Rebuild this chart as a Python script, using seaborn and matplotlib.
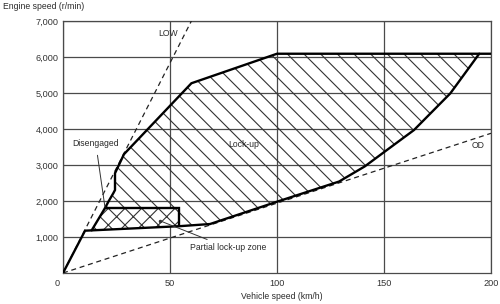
import matplotlib
matplotlib.use("Agg")
import matplotlib.pyplot as plt
import matplotlib.transforms as mtransforms
from matplotlib.patches import Polygon
import seaborn as sns

# ---- data ----
x_ticks = [0, 50, 100, 150, 200]
x_tick_labels = ["0", "50", "100", "150", "200"]
y_ticks = [1000, 2000, 3000, 4000, 5000, 6000, 7000]
y_tick_labels = ["1,000", "2,000", "3,000", "4,000", "5,000", "6,000", "7,000"]

# lower / right boundary of the lock-up area (km/h, r/min)
lower_speed = [0, 10.3, 54.4, 68.7, 100, 129, 141, 151, 164, 181, 194.5]
lower_rpm = [0, 1175, 1300, 1360, 1980, 2540, 2960, 3400, 3970, 4990, 6090]

# upper / left boundary
upper_speed = [200, 100, 60, 28.5, 24.3, 24.3, 23.5, 21.2, 19.6, 13.4]
upper_rpm = [6090, 6090, 5270, 3300, 2770, 2305, 2215, 1980, 1800, 1185]

# partial lock-up zone
partial_speed = [13.4, 19.6, 54.4, 54.4]
partial_rpm = [1185, 1800, 1800, 1300]

# gear lines
low_speed = [0, 60]
low_rpm = [0, 7000]
od_speed = [0, 200]
od_rpm = [0, 3880]

# ---- style ----
sns.set_theme(style="white")
plt.rcParams["font.family"] = ["Liberation Sans", "DejaVu Sans"]
plt.rcParams["hatch.linewidth"] = 0.8

fig = plt.figure(figsize=(5, 3.04), dpi=100)
ax = fig.add_axes([0.126, 0.102, 0.856, 0.829])

grid_col = "#4a4a4a"
ax.set_xlim(0, 200)
ax.set_ylim(0, 7000)
ax.set_xticks(x_ticks)
ax.set_xticklabels(x_tick_labels)
ax.set_yticks(y_ticks)
ax.set_yticklabels(y_tick_labels)
ax.tick_params(axis="both", length=0, labelsize=6.6, colors="#333333")
ax.tick_params(axis="x", pad=4.5)
ax.tick_params(axis="y", pad=3.2)
ax.grid(True, color=grid_col, linewidth=0.9)
ax.set_axisbelow(True)
for s in ax.spines.values():
    s.set_color(grid_col)
    s.set_linewidth(0.9)

# shift the "0" x tick label slightly left (shared origin label)
lbl0 = ax.get_xticklabels()[0]
lbl0.set_transform(lbl0.get_transform() + mtransforms.ScaledTranslation(-6 / 100, 0, fig.dpi_scale_trans))

# ---- hatched areas ----
i_rect = 2  # index of (54.4, 1300) in the lower boundary
lock_pts = [(partial_speed[1], partial_rpm[1]), (partial_speed[2], partial_rpm[2]),
            (partial_speed[3], partial_rpm[3])]
lock_pts += list(zip(lower_speed[i_rect + 1:], lower_rpm[i_rect + 1:]))
lock_pts += list(zip(upper_speed[1:-1], upper_rpm[1:-1]))
ax.add_patch(Polygon(lock_pts, closed=True, facecolor="none", edgecolor="#333333",
                     linewidth=0, hatch="\\\\", zorder=2))

part_pts = list(zip(partial_speed, partial_rpm))
ax.add_patch(Polygon(part_pts, closed=True, facecolor="white", edgecolor="#333333",
                     linewidth=0, hatch="xx", zorder=2))

# ---- lines ----
dash = dict(color="#222222", linewidth=0.9, dashes=(4, 3), sort=False, estimator=None, ax=ax)
sns.lineplot(x=low_speed, y=low_rpm, **dash)
sns.lineplot(x=od_speed, y=od_rpm, **dash)

thick = dict(color="black", linewidth=1.7, sort=False, estimator=None, ax=ax)
sns.lineplot(x=lower_speed, y=lower_rpm, **thick)
sns.lineplot(x=upper_speed, y=upper_rpm, **thick)
sns.lineplot(x=partial_speed[1:], y=partial_rpm[1:], **thick)
for ln in ax.lines:
    ln.set_solid_joinstyle("miter")
    ln.set_zorder(3)

# ---- labels ----
tkw = dict(fontsize=6.2, color="#2a2a2a")
ax.text(49.1, 6660, "LOW", ha="center", va="center", **tkw)
ax.text(193.9, 3530, "OD", ha="center", va="center", **tkw)
ax.text(84.3, 3560, "Lock-up", ha="center", va="center", **tkw)
ax.annotate("Disengaged", xy=(19.6, 1830), xytext=(15.3, 3600), ha="center", va="center",
            arrowprops=dict(arrowstyle="-", color="#333333", lw=0.7, shrinkA=3, shrinkB=0), **tkw)
ax.annotate("Partial lock-up zone", xy=(45.3, 1450), xytext=(59.3, 700), ha="left", va="center",
            arrowprops=dict(arrowstyle="-", color="#333333", lw=0.7, shrinkA=1, shrinkB=0), **tkw)
ax.plot([45.3], [1450], marker="o", markersize=1.5, color="#333333", zorder=4)

fig.text(0.0054, 0.978, "Engine speed (r/min)", ha="left", va="center", **tkw)
fig.text(0.563, 0.024, "Vehicle speed (km/h)", ha="center", va="center", **tkw)

fig.savefig("out.png", dpi=100)
